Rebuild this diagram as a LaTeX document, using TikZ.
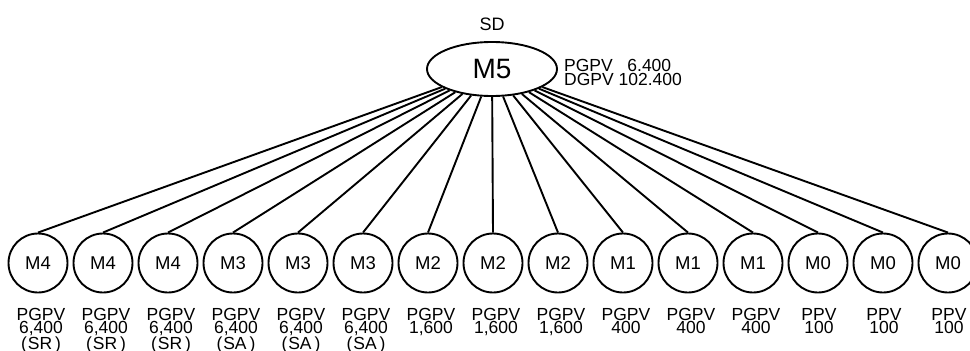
\documentclass[tikz,border=0pt]{standalone}
\usepackage{fontspec}
\setmainfont{Liberation Sans}
\usetikzlibrary{shapes.geometric}
\tikzset{
  lw/.style={line width=1.9pt},
  topnode/.style={ellipse, draw, lw, minimum width=130pt, minimum height=54pt, inner sep=0pt,
    font=\fontsize{28}{30}\selectfont},
  child/.style={circle, draw, lw, minimum size=59pt, inner sep=0pt,
    font=\fontsize{18.5}{20}\selectfont},
  lab/.style={align=center, inner sep=0pt, anchor=north,
    font=\fontsize{17.5}{12.8}\selectfont},
  side/.style={align=left, inner sep=0pt, anchor=north west,
    font=\fontsize{17.5}{13.5}\selectfont},
  conn/.style={lw}
}
\begin{document}
\begin{tikzpicture}[x=1pt,y=-1pt]
\useasboundingbox (0,0) rectangle (970,351);
\node[topnode] (m5) at (492,69) {M5};
\node[inner sep=0pt, anchor=base, font=\fontsize{18}{20}\selectfont] (sd) at (492,30) {SD};
\node[side] (info) at (564,59.5) {PGPV\ \ \ 6.400\\DGPV 102.400};
\foreach \lab/\txt/\dx [count=\i from 0] in {
  M4/{PGPV\\6,400\\(\hspace{1pt}SR\hspace{3pt})}/3,
  M4/{PGPV\\6,400\\(\hspace{1pt}SR\hspace{3pt})}/3,
  M4/{PGPV\\6,400\\(\hspace{1pt}SR\hspace{3pt})}/3,
  M3/{PGPV\\6,400\\(\hspace{1pt}SA\hspace{3pt})}/3,
  M3/{PGPV\\6,400\\(\hspace{1pt}SA\hspace{3pt})}/3,
  M3/{PGPV\\6,400\\(\hspace{1pt}SA\hspace{3pt})}/3,
  M2/{PGPV\\1,600}/3,
  M2/{PGPV\\1,600}/3,
  M2/{PGPV\\1,600}/3,
  M1/{PGPV\\400}/3,
  M1/{PGPV\\400}/3,
  M1/{PGPV\\400}/3,
  M0/{PPV\\100}/1,
  M0/{PPV\\100}/1,
  M0/{PPV\\100}/1}
{
  \node[child] (c\i) at (38+65*\i,263) {\lab};
  \node[lab] (l\i) at (38+65*\i+\dx,308.5) {\txt};
  \draw[conn] (m5) -- (c\i.north);
}
\end{tikzpicture}
\end{document}
